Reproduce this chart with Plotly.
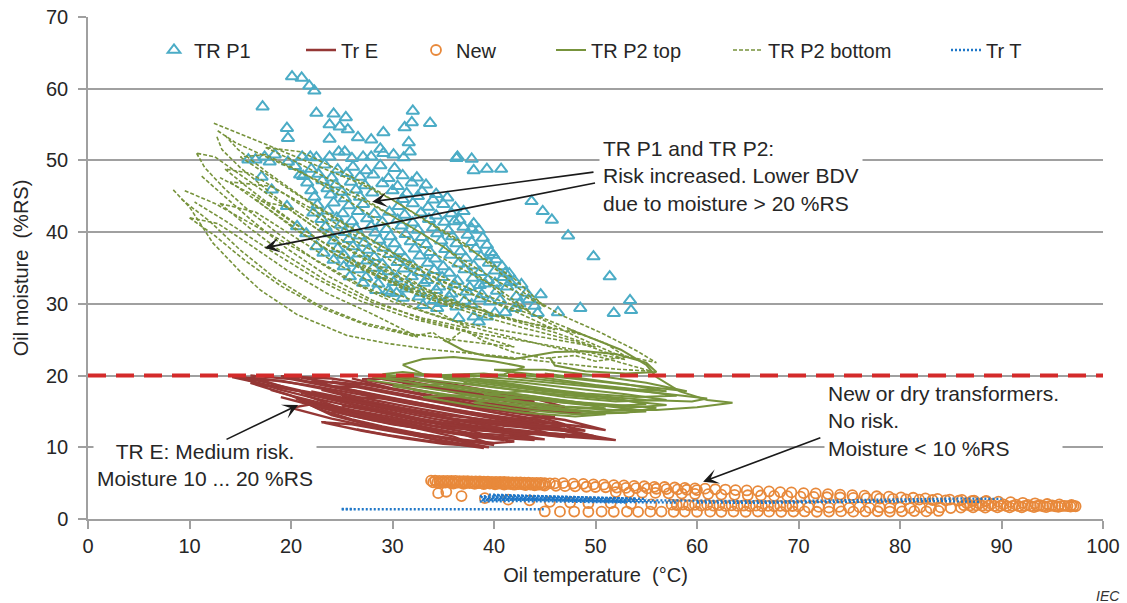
import plotly.graph_objects as go

# ---------------- DATA ----------------
# TR P1 : (oil temperature, oil moisture) scatter points
TR_P1_OUTLIERS = [
    (20.1, 61.7), (21.05, 61.5), (21.8, 60.4), (22.3, 59.7), (17.2, 57.5), (22.5, 56.6), (24.2, 56.5),
    (25.4, 56.0), (23.8, 55.0), (24.8, 54.7), (25.6, 54.3), (19.6, 54.5), (19.7, 53.1), (23.8, 53.0),
    (32.0, 56.9), (31.9, 55.3), (31.2, 54.6), (33.7, 55.2), (31.6, 52.5), (29.1, 53.9), (27.9, 52.9),
    (26.6, 53.2), (31.7, 51.2), (31.1, 50.4), (36.4, 50.5), (37.8, 50.2), (38.0, 48.6), (39.3, 48.8),
    (40.7, 48.8), (43.7, 44.3), (44.8, 42.9), (45.7, 41.7), (47.3, 39.5), (49.8, 36.6), (51.4, 33.8),
    (53.4, 30.5), (53.5, 29.1), (51.8, 28.7), (48.5, 29.4), (46.3, 28.8), (44.3, 28.7), (42.1, 29.4),
    (41.1, 28.8), (40.1, 28.7), (39.3, 28.2), (38.5, 27.5), (37.8, 40.5), (39.9, 36.8), (41.1, 34.3),
    (41.6, 33.0), (42.2, 31.0), (39.6, 30.3), (40.1, 32.9), (38.6, 32.6), (36.1, 41.5), (36.3, 50.3),
    (34.4, 29.4), (36.5, 28.0), (38.0, 28.2),
]
TR_P1_ROW50 = [
    (15.8, 50.1), (16.5, 50.1), (17.4, 50.5), (18.4, 50.8), (17.9, 49.8), (19.7, 49.8), (21.1, 50.5),
    (21.9, 50.5), (22.5, 50.4), (23.8, 50.5), (24.7, 51.2), (25.3, 51.2), (26.0, 50.3), (27.1, 50.5),
    (27.9, 50.5), (28.8, 51.6), (29.1, 51.0), (30.1, 50.8), (17.1, 47.7), (20.9, 48.0), (18.1, 45.9),
    (19.6, 43.6), (20.6, 40.8), (21.5, 39.8), (22.5, 38.0), (23.2, 37.1), (24.2, 36.1), (25.2, 35.2),
    (25.8, 33.8), (27.1, 32.9), (28.4, 31.9), (29.8, 31.5), (30.4, 31.5),
]
TR_P1_CORE = [
    (20.4, 49.2), (22.0, 48.8), (23.3, 49.4), (24.6, 48.7), (26.1, 49.1), (27.4, 48.6), (28.8, 49.3), (30.2, 48.9),
    (21.2, 47.8), (22.7, 48.1), (24.0, 47.6), (25.5, 48.2), (26.8, 47.7), (28.1, 48.0), (29.6, 47.5), (31.0, 47.9), (32.4, 47.6),
    (21.6, 46.9), (23.1, 47.2), (24.4, 46.6), (25.9, 47.0), (27.3, 46.5), (29.0, 46.8), (30.5, 46.4), (31.9, 46.9), (33.3, 46.6),
    (22.0, 45.8), (23.6, 46.1), (25.0, 45.6), (26.4, 45.9), (28.0, 45.5), (30.0, 45.8), (31.4, 45.4), (32.9, 45.7), (34.3, 45.3),
    (22.3, 44.9), (23.9, 45.2), (25.3, 44.7), (26.8, 44.9), (31.0, 44.6), (32.5, 45.0), (34.0, 44.5), (35.4, 44.8),
    (22.6, 43.8), (24.2, 44.1), (25.7, 43.7), (27.1, 43.9), (30.6, 43.6), (32.0, 44.0), (33.5, 43.5), (35.0, 43.9), (36.2, 43.4),
    (22.2, 42.7), (23.6, 43.0), (25.1, 42.6), (26.6, 42.9), (28.2, 42.5), (29.7, 42.8), (31.2, 42.4), (32.8, 42.7), (34.3, 42.3), (35.8, 42.6), (37.0, 42.9),
    (23.0, 41.8), (24.5, 42.0), (26.0, 41.5), (27.5, 41.9), (29.0, 41.4), (30.5, 41.7), (32.0, 41.3), (33.6, 41.8), (35.1, 41.4), (36.6, 41.7), (38.0, 41.2),
    (23.4, 40.7), (24.9, 41.0), (26.4, 40.5), (27.9, 40.8), (29.4, 40.4), (30.9, 40.9), (32.5, 40.3), (34.0, 40.6), (35.5, 40.2), (37.0, 40.7), (38.5, 40.3),
    (23.8, 39.8), (25.3, 40.0), (26.8, 39.5), (28.3, 39.9), (29.8, 39.4), (31.3, 39.7), (32.9, 39.3), (34.4, 39.8), (35.9, 39.4), (37.4, 39.6), (38.9, 39.2),
    (24.2, 38.8), (25.7, 39.0), (27.2, 38.5), (28.7, 38.9), (30.2, 38.4), (31.8, 38.7), (33.3, 38.3), (34.8, 38.8), (36.3, 38.4), (37.8, 38.6), (39.3, 38.2),
    (24.6, 37.7), (26.1, 38.0), (27.6, 37.5), (29.1, 37.8), (30.7, 37.3), (32.2, 37.7), (33.7, 37.2), (35.2, 37.6), (36.7, 37.3), (38.2, 37.7), (39.7, 37.2),
    (25.2, 36.8), (26.7, 37.0), (28.2, 36.5), (29.7, 36.9), (31.2, 36.4), (32.7, 36.7), (34.2, 36.3), (35.7, 36.8), (37.2, 36.4), (38.7, 36.6), (40.2, 36.2),
    (26.0, 35.7), (27.5, 36.0), (29.0, 35.5), (30.5, 35.8), (32.0, 35.3), (33.5, 35.7), (35.0, 35.2), (36.5, 35.6), (38.0, 35.3), (39.5, 35.7), (40.8, 35.2),
    (26.6, 34.8), (28.1, 35.0), (29.6, 34.5), (31.1, 34.9), (32.6, 34.4), (34.1, 34.7), (35.6, 34.3), (37.1, 34.8), (38.6, 34.4), (40.1, 34.6), (41.5, 34.2),
    (27.4, 33.7), (28.9, 34.0), (30.4, 33.5), (31.9, 33.8), (33.4, 33.3), (34.9, 33.7), (36.4, 33.2), (37.9, 33.6), (39.4, 33.3), (40.9, 33.7), (42.0, 33.2),
    (28.6, 32.8), (30.1, 33.0), (31.6, 32.5), (33.1, 32.9), (34.6, 32.4), (36.1, 32.7), (37.6, 32.3), (39.1, 32.8), (41.3, 32.4), (42.7, 32.7),
    (29.6, 31.8), (31.3, 32.1), (32.8, 31.5), (34.3, 31.9), (35.8, 31.4), (37.3, 31.7), (38.8, 31.3), (40.3, 31.8), (43.2, 31.5),
    (31.0, 30.8), (32.6, 31.0), (34.1, 30.5), (35.6, 30.9), (37.1, 30.4), (38.6, 30.7), (40.6, 30.5), (43.4, 30.6), (44.6, 31.3),
    (33.0, 29.8), (34.8, 30.1), (36.3, 29.6), (37.8, 29.9), (42.5, 30.0), (44.0, 29.7),
]

# Tr E : polylines (temperature, moisture)
TR_E_LOOPS = [
    [(14.2, 19.8), (18, 18.6), (22, 17.5), (26, 16.3), (30, 15.2), (34, 14.0), (38, 13.0), (42, 12.2), (46, 11.6), (52, 11.0),
     (47, 12.3), (42, 13.5), (37, 14.8), (32, 16.0), (27, 17.3), (22, 18.6), (17, 19.6), (14.2, 19.8)],
    [(19, 19.9), (23, 18.8), (27, 17.6), (31, 16.5), (35, 15.4), (39, 14.4), (43, 13.6), (47, 13.2), (44, 14.4), (40, 15.4),
     (36, 16.5), (32, 17.6), (28, 18.7), (24, 19.6), (19, 19.9)],
    [(16, 19.0), (20, 17.2), (23, 15.5), (26, 14.4), (30, 13.2), (34, 12.3), (38, 11.5), (41, 11.0), (37, 12.6), (33, 13.6),
     (29, 14.8), (25, 16.4), (21, 17.8), (16, 19.0)],
    [(21, 16.5), (24, 14.5), (28, 13.0), (32, 11.7), (36, 10.5), (39, 9.9), (36, 11.5), (32, 12.8), (28, 14.2), (24, 15.6), (21, 16.5)],
    [(22, 19.2), (26, 18.0), (30, 16.8), (34, 15.6), (38, 14.6), (42, 14.0), (46, 14.2), (43, 15.0), (39, 15.8), (35, 16.8),
     (31, 17.8), (27, 18.8), (22, 19.2)],
    [(25, 17.0), (29, 15.8), (33, 14.8), (37, 13.6), (41, 12.6), (45, 12.0), (50, 11.5), (46, 12.8), (42, 13.8), (38, 14.8),
     (34, 15.8), (30, 16.8), (25, 17.0)],
    [(27, 19.5), (31, 18.4), (35, 17.2), (39, 16.2), (43, 15.4), (46, 15.6), (42, 16.6), (38, 17.6), (34, 18.6), (30, 19.6), (27, 19.5)],
    [(23, 13.5), (27, 12.3), (31, 11.3), (35, 10.5), (38, 10.2), (34, 11.2), (30, 12.2), (26, 13.2), (23, 13.5)],
    [(18, 18.0), (22, 16.4), (26, 15.2), (30, 14.2), (34, 13.0), (38, 12.4), (42, 12.0), (44, 11.3), (40, 11.8), (36, 12.0),
     (32, 13.2), (28, 14.4), (24, 15.8), (20, 17.2)],
    [(15.5, 19.5), (19, 18.0), (23, 16.6), (27, 15.4), (31, 14.4), (35, 13.4), (39, 12.7), (43, 12.0), (47, 11.4), (43, 12.8),
     (39, 13.8), (35, 14.7), (31, 15.8), (27, 16.9), (23, 18.2), (19, 19.3), (15.5, 19.5)],
    [(20, 15.5), (24, 14.0), (28, 12.8), (32, 12.0), (36, 11.2), (40, 10.6), (42, 10.8), (38, 11.9), (34, 12.9), (30, 13.9),
     (26, 14.9), (22, 16.0), (20, 15.5)],
    [(24, 18.5), (28, 17.2), (32, 16.2), (36, 15.2), (40, 14.4), (44, 13.6), (48, 13.0), (51, 12.4), (47, 13.8), (43, 14.6),
     (39, 15.4), (35, 16.4), (31, 17.4), (27, 18.4), (24, 18.5)],
    [(29, 19.8), (33, 18.6), (37, 17.6), (41, 16.8), (44, 16.4), (40, 17.6), (36, 18.6), (32, 19.5), (29, 19.8)],
    [(22, 17.8), (26, 16.0), (30, 14.6), (34, 13.6), (38, 12.8), (41, 12.6), (37, 13.6), (33, 14.6), (29, 15.8), (25, 17.0), (22, 17.8)],
    [(14.8, 19.9), (18, 18.9), (21, 17.9), (25, 16.8), (29, 15.7), (33, 14.6), (37, 13.7), (41, 13.0), (45, 12.5), (48, 12.2),
     (44, 13.2), (40, 14.1), (36, 15.1), (32, 16.2), (28, 17.3), (24, 18.5), (20, 19.5), (16, 20.0)],
    [(17, 19.4), (20, 18.1), (24, 16.9), (28, 15.9), (32, 14.9), (36, 14.0), (40, 13.3), (44, 12.8), (49, 12.3), (45, 13.6),
     (41, 14.6), (37, 15.6), (33, 16.6), (29, 17.7), (25, 18.8), (21, 19.7)],
    [(20.5, 16.8), (23, 15.2), (26, 13.9), (29, 12.9), (33, 11.8), (37, 11.0), (40, 10.3), (37, 11.8), (34, 12.6), (30, 13.6),
     (27, 14.7), (24, 15.9), (21.5, 17.2)],
    [(23, 18.0), (27, 16.6), (31, 15.5), (35, 14.5), (39, 13.9), (43, 13.2), (47, 12.9), (44, 14.0), (40, 14.9), (36, 15.9),
     (32, 17.0), (28, 18.2), (24, 19.2)],
    [(26, 19.6), (30, 18.2), (34, 17.2), (38, 16.4), (42, 15.6), (46, 15.0), (49, 14.6), (45, 15.8), (41, 16.7), (37, 17.6),
     (33, 18.6), (29, 19.5)],
    [(24, 15.0), (28, 13.8), (32, 12.8), (36, 12.0), (40, 11.4), (44, 11.0), (41, 12.2), (37, 12.9), (33, 13.8), (29, 14.8), (25, 15.8)],
    [(26.5, 12.5), (30, 11.6), (33.5, 10.9), (37, 10.4), (39.5, 10.0), (36, 11.0), (32, 11.9), (28.5, 12.8)],
    [(31, 19.0), (35, 17.9), (39, 16.9), (43, 16.1), (47, 15.6), (44, 16.8), (40, 17.8), (36, 18.8), (32, 19.7)],
    [(19, 17.0), (22, 15.9), (25, 15.0), (29, 13.7), (33, 12.7), (37, 11.9), (41, 11.4), (45, 11.1), (41, 12.0), (37, 12.8),
     (33, 13.9), (29, 15.2), (25, 16.3), (21, 17.6)],
    [(35, 12.8), (39, 12.4), (43, 11.8), (46, 11.9), (50, 11.3), (46, 12.6), (42, 13.2), (38, 13.8), (35, 13.5)],
]

# New : open circles
NEW_TOP_X = [33.8, 34.2, 34.6, 35.0, 35.4, 35.8, 36.2, 36.6, 37.0, 37.4, 37.8, 38.2, 38.6, 39.0, 39.4, 39.8, 40.2, 40.6,
             41.0, 41.4, 41.8, 42.2, 42.6, 43.0, 43.4, 43.8, 44.2, 44.6, 45.0, 45.5, 46.0]
NEW_TOP_Y = [5.35, 5.36, 5.33, 5.32, 5.33, 5.30, 5.31, 5.28, 5.27, 5.27, 5.25, 5.24, 5.23, 5.22, 5.20, 5.19, 5.18, 5.16,
             5.16, 5.14, 5.12, 5.11, 5.10, 5.08, 5.07, 5.05, 5.04, 5.03, 5.00, 4.98, 4.97]
NEW_TOP2_X = [34.0, 34.4, 34.8, 35.2, 35.6, 36.0, 36.4, 36.8, 37.2, 37.6, 38.0, 38.4, 38.8, 39.2, 39.6, 40.0, 40.4, 40.8,
              41.2, 41.6, 42.0, 42.4, 42.8, 43.2, 43.6, 44.0, 44.4, 44.8]
NEW_TOP2_Y = [5.12, 5.10, 5.11, 5.08, 5.08, 5.05, 5.06, 5.03, 5.02, 5.02, 4.99, 4.99, 4.97, 4.96, 4.95, 4.93, 4.92, 4.91,
              4.89, 4.88, 4.86, 4.85, 4.84, 4.82, 4.81, 4.79, 4.78, 4.76]
NEW_ROW2_X = [36.0, 37.0, 38.1, 39.0, 40.1, 41.0, 42.0, 43.1, 44.0, 45.0, 46.1, 47.0, 48.0, 49.1, 50.0, 51.0, 52.1, 53.0,
              54.0, 55.1, 56.0, 57.0, 58.1, 59.0, 60.0]
NEW_ROW2_Y = [4.95, 4.91, 4.90, 4.86, 4.84, 4.79, 4.78, 4.73, 4.70, 4.67, 4.62, 4.58, 4.55, 4.50, 4.46, 4.43, 4.38, 4.33,
              4.31, 4.26, 4.22, 4.17, 4.13, 4.08, 4.04]
NEW_ROW3_X = [46.8, 47.8, 48.8, 49.8, 50.8, 51.8, 52.8, 53.8, 54.8, 55.8, 56.8, 57.8, 58.8, 59.8, 60.8, 61.8, 62.8, 63.8,
              64.9, 66.0, 67.1, 68.2, 69.3, 70.5, 71.7, 72.9, 74.1, 75.3, 76.5, 77.7, 78.9, 80.1, 81.3, 82.5, 83.7, 84.9,
              86.1, 87.3, 88.5, 89.7, 90.9, 92.1, 93.3, 94.5, 95.7, 96.9]
NEW_ROW3_Y = [5.00, 4.94, 4.90, 4.82, 4.79, 4.72, 4.69, 4.61, 4.57, 4.49, 4.46, 4.39, 4.35, 4.27, 4.23, 4.15, 4.11, 4.03,
              3.98, 3.89, 3.84, 3.75, 3.71, 3.61, 3.56, 3.47, 3.41, 3.32, 3.26, 3.17, 3.11, 3.01, 2.96, 2.87, 2.81, 2.71,
              2.66, 2.57, 2.51, 2.41, 2.36, 2.26, 2.19, 2.09, 2.03, 1.95]
NEW_MID_X = [52.0, 53.3, 54.6, 55.9, 57.2, 58.5, 59.8, 61.1, 62.4, 63.7, 65.0, 66.3, 67.6, 68.9, 70.2, 71.5, 72.8, 74.1,
             75.4, 76.7, 78.0, 79.3, 80.6, 81.9, 83.2, 84.5, 85.8, 87.1, 88.4]
NEW_MID_Y = [3.75, 3.72, 3.66, 3.64, 3.58, 3.55, 3.49, 3.47, 3.40, 3.37, 3.31, 3.28, 3.22, 3.18, 3.13, 3.09, 3.03, 3.00,
             2.94, 2.90, 2.84, 2.81, 2.75, 2.70, 2.65, 2.61, 2.55, 2.51, 2.45]
NEW_ISO_X = [34.5, 35.3, 36.8, 39.1, 41.4, 43.5, 45.5, 47.5, 49.3, 51.5, 53.5, 55.5, 57.5]
NEW_ISO_Y = [3.6, 3.8, 3.2, 2.9, 2.7, 2.6, 2.4, 2.3, 2.2, 2.2, 2.1, 2.05, 2.0]
NEW_LOW_X = [58.0, 58.6, 59.2, 59.8, 60.4, 61.0, 61.6, 62.2, 62.8, 63.4, 64.0, 64.6, 65.2, 65.8, 66.4, 67.0, 67.6, 68.2,
             68.8, 69.4, 70.0, 71.0, 72.0, 73.0, 74.0, 75.0, 76.0, 77.0, 78.0, 79.0, 80.0, 81.0, 82.0, 83.0, 84.0, 85.0,
             86.0, 86.6, 87.2, 87.8, 88.4, 89.0, 89.6, 90.2, 90.8, 91.4, 92.0, 92.6, 93.2, 93.8, 94.4, 95.0, 95.6, 96.2,
             96.8, 97.3]
NEW_LOW_Y = [1.95, 2.02, 1.92, 1.98, 1.88, 1.96, 1.86, 1.93, 1.84, 1.90, 1.82, 1.88, 1.80, 1.86, 1.79, 1.84, 1.77, 1.83,
             1.76, 1.81, 1.75, 1.62, 1.70, 1.58, 1.68, 1.56, 1.66, 1.55, 1.64, 1.54, 1.63, 1.53, 1.62, 1.52, 1.61, 1.52,
             1.60, 2.20, 1.62, 2.15, 1.60, 2.10, 1.62, 2.05, 1.63, 2.00, 1.64, 1.96, 1.65, 1.92, 1.66, 1.88, 1.68, 1.84,
             1.72, 1.78]
NEW_RIGHT_X = [86.3, 86.9, 87.5, 88.1, 88.7, 89.3, 89.9, 90.5, 91.1, 91.7, 92.3, 92.9, 93.5, 94.1, 94.7, 95.3, 95.9, 96.5, 97.1]
NEW_RIGHT_Y = [1.92, 1.88, 1.90, 1.85, 1.87, 1.83, 1.85, 1.81, 1.83, 1.80, 1.82, 1.79, 1.81, 1.78, 1.80, 1.78, 1.79, 1.80, 1.81]
NEW_BOT_X = [45.0, 46.5, 47.9, 49.3, 50.6, 51.8, 53.1, 54.2, 55.4, 56.5, 57.7, 58.8, 60.0, 61.3, 62.4, 63.6, 64.8, 66.0,
             67.1, 68.3, 69.5, 70.6, 71.8, 73.0, 74.2, 75.4, 76.6, 77.8, 79.0, 80.2, 81.4, 82.6, 83.8]
NEW_BOT_Y = [1.05, 1.02, 1.04, 1.00, 1.03, 1.01, 1.04, 1.00, 1.02, 1.03, 1.00, 1.04, 1.01, 1.02, 1.00, 1.03, 1.01, 1.04,
             1.02, 1.00, 1.03, 1.05, 1.01, 1.03, 1.06, 1.02, 1.05, 1.08, 1.04, 1.07, 1.10, 1.06, 1.12]

# TR P2 top : solid loops
TR_P2_TOP_LOOPS = [
    [(31, 21.5), (33, 22.3), (36, 22.6), (40, 22.0), (43, 21.2), (41, 20.2), (37, 19.8), (33, 20.2), (31, 21.5)],
    [(35, 25.0), (37, 23.5), (39, 22.8), (42, 22.3), (44, 22.8), (46, 23.3), (49, 23.4), (52, 23.0), (55, 21.8), (56, 20.5),
     (53, 20.3), (49, 20.6), (46, 21.4), (45.5, 22.5)],
    [(47.5, 26.4), (50, 25.0), (52.5, 23.6), (55, 21.5), (56, 19.8), (58.3, 17.8), (61, 16.6), (63.5, 16.2), (60, 15.6),
     (56, 15.2), (51.7, 15.2), (47, 15.6)],
    [(28, 19.8), (32, 19.0), (37, 18.0), (42, 17.0), (47, 16.2), (52, 15.8), (55, 16.0), (52, 16.8), (47, 17.6), (42, 18.6),
     (37, 19.5), (32, 20.2), (28, 19.8)],
    [(30, 18.5), (35, 17.4), (40, 16.4), (45, 15.5), (50, 15.0), (54, 15.2), (50, 16.0), (45, 16.9), (40, 17.8), (35, 18.8), (30, 18.5)],
    [(33, 17.0), (38, 15.8), (43, 14.8), (48, 14.3), (51, 14.6), (47, 15.4), (42, 16.3), (37, 17.3), (33, 17.0)],
    [(34, 20.0), (39, 19.2), (44, 18.3), (49, 17.5), (54, 17.0), (58, 17.2), (54, 18.0), (49, 18.8), (44, 19.6), (39, 20.3), (34, 20.0)],
    [(37, 19.0), (42, 18.0), (47, 17.0), (52, 16.4), (57, 16.6), (53, 17.4), (48, 18.2), (43, 19.0), (38, 19.6), (37, 19.0)],
    [(29, 20.2), (31, 19.8), (36, 19.0), (41, 18.2), (46, 17.4), (50, 17.0), (46, 18.0), (41, 19.0), (36, 19.8), (31, 20.5), (29, 20.2)],
    [(38, 16.2), (43, 15.2), (48, 14.6), (53, 14.8), (56, 15.5), (52, 15.9), (47, 16.3), (42, 16.9), (38, 16.2)],
    [(40, 20.8), (45, 20.0), (50, 19.2), (55, 18.4), (59, 17.8), (55, 19.0), (50, 20.0), (45, 20.8), (40, 20.8)],
    [(27.5, 19.4), (31, 18.7), (35, 17.9), (39, 17.1), (43, 16.3), (47, 15.7), (51, 15.4), (48, 16.3), (44, 17.1), (40, 17.9),
     (36, 18.7), (32, 19.4), (28.5, 19.8)],
    [(32, 18.0), (36, 17.1), (40, 16.2), (44, 15.4), (48, 15.0), (52, 14.8), (55, 15.0), (51, 15.9), (47, 16.4), (43, 17.1),
     (39, 17.9), (35, 18.6)],
    [(35, 19.6), (40, 18.7), (45, 17.8), (50, 17.2), (55, 16.6), (59.5, 16.4), (61, 16.8), (56, 17.6), (51, 18.3), (46, 19.0),
     (41, 19.6), (37, 20.1)],
    [(39, 17.4), (44, 16.6), (49, 15.9), (54, 15.6), (57, 15.9), (53, 16.5), (48, 17.1), (43, 17.8), (39, 17.4)],
    [(42, 20.3), (46, 19.5), (50, 18.7), (54, 18.1), (57, 17.8), (53, 18.8), (49, 19.6), (45, 20.3)],
]

# TR P2 bottom : dashed loops
TR_P2_BOT_LOOPS = [
    [(8.4, 45.9), (10, 43.5), (12.3, 38.5), (15, 34.5), (17, 31.9), (20.6, 28.5), (25.5, 25.6), (29.4, 24.5), (34, 23.6),
     (40, 22.8), (46, 21.8), (52, 20.9), (55.5, 20.6), (51, 22.4), (45, 24.2), (39, 26.3), (33, 29.0), (27, 32.5), (22, 36.5),
     (17, 40.5), (12.5, 44.0), (9.5, 45.8)],
    [(9.2, 44.6), (12, 41.5), (15, 37.5), (18.5, 33.5), (22.5, 30.0), (27, 27.4), (32, 25.8), (37, 24.8), (42, 24.0), (37, 26.2),
     (32, 27.9), (27, 30.3), (22.5, 33.5), (18, 37.4), (13.5, 41.6), (10.5, 44.2)],
    [(10.7, 51.0), (11.5, 49.0), (13.5, 46.0), (16, 42.8), (19, 39.5), (22.5, 36.0), (26, 33.0), (30, 30.3), (35, 28.0),
     (40, 26.5), (45, 25.3), (50, 24.0), (46, 26.0), (41, 28.0), (36, 30.5), (31, 33.5), (26.5, 37.0), (22.5, 40.5),
     (18.5, 44.5), (15, 48.0), (12.5, 50.5), (10.7, 51.0)],
    [(12.7, 53.3), (13.2, 51.5), (15, 49.0), (17.5, 46.0), (20.5, 42.5), (24, 39.0), (28, 35.5), (32, 32.5), (36.5, 30.0),
     (41, 28.2), (46, 26.4), (42, 29.0), (37.5, 31.5), (33, 34.5), (29, 38.0), (25, 41.5), (21, 45.0), (17.5, 48.5),
     (14.8, 51.5), (13.5, 53.5)],
    [(12.4, 55.2), (14.5, 54.0), (17, 52.5), (20, 50.8), (23, 49.0), (26.5, 47.0), (30, 44.5), (33.5, 41.5), (37, 38.5),
     (40, 35.0), (43, 31.5), (46.5, 28.5), (50.5, 26.0), (54, 23.5), (56, 21.8), (52, 23.0), (48, 25.5), (44.5, 28.0),
     (41, 31.0), (38, 34.5), (35, 38.0), (31.5, 41.0), (28, 43.8), (24.5, 46.0), (21, 48.3), (17.5, 50.5), (14.5, 52.5),
     (12.6, 54.3)],
    [(11.2, 47.8), (13, 45.5), (16, 41.8), (19.5, 37.8), (23.5, 34.0), (28, 30.5), (33, 27.8), (38, 26.0), (43, 24.8),
     (48, 23.6), (53, 22.2), (48, 24.8), (43, 26.6), (38, 28.6), (33, 31.0), (28.5, 34.0), (24, 37.8), (20, 41.5),
     (16.5, 45.0), (13, 47.6)],
    [(13.5, 48.8), (15.5, 46.5), (18.5, 43.2), (22, 39.6), (26, 36.2), (30.5, 33.0), (35, 30.5), (39.5, 28.8), (36, 31.8),
     (31.5, 34.8), (27, 38.2), (23, 41.8), (19.5, 45.2), (16, 48.2), (13.5, 48.8)],
    [(15, 50.5), (17, 48.6), (20, 45.8), (23.5, 42.6), (27.5, 39.2), (31.5, 36.0), (35.5, 33.4), (39.5, 31.0), (43.5, 29.0),
     (40, 32.5), (36, 35.5), (32, 38.8), (28, 42.2), (24.5, 45.4), (21, 48.4), (17.5, 50.8), (15, 50.5)],
    [(17.5, 51.8), (20.5, 49.8), (24, 47.2), (27.5, 44.4), (31, 41.4), (34.5, 38.4), (38, 35.2), (41.5, 32.2), (45, 29.6),
     (42, 33.5), (38.5, 36.8), (35, 40.0), (31.5, 43.2), (28, 46.2), (24.5, 48.8), (21, 51.2), (17.5, 51.8)],
    [(10, 42.0), (12.5, 39.5), (15.5, 36.0), (19, 32.5), (23, 29.4), (27.5, 27.0), (32.5, 25.4), (28, 28.6), (23.5, 31.5),
     (19.5, 34.8), (16, 38.2), (12.8, 41.2), (10, 42.0)],
    [(13, 44.0), (16, 40.5), (19.5, 36.8), (23.5, 33.2), (28, 30.2), (33, 28.0), (37.5, 26.6), (33.5, 29.6), (29, 32.2),
     (24.5, 35.6), (20.5, 39.2), (16.5, 42.8), (13, 44.0)],
    [(30, 26.4), (32, 25.5), (34, 26.0), (35.4, 24.6), (37, 26.4), (39, 24.8), (42, 23.2), (45, 22.4), (48, 22.8), (50, 22.0),
     (53, 22.6), (51, 24.5), (48.5, 25.8), (47.2, 26.4)],
    [(14, 47.0), (17, 44.0), (20.5, 40.3), (24.5, 36.8), (29, 33.6), (34, 30.8), (39, 28.6), (44, 27.2), (49, 25.6),
     (44.5, 28.2), (39.5, 30.4), (35, 33.0), (30.5, 36.2), (26, 39.8), (22, 43.3), (18, 46.4), (14, 47.0)],
    [(16.5, 44.5), (19.5, 41.5), (23, 38.0), (27, 34.8), (31.5, 31.8), (36, 29.5), (31.8, 33.4), (27.5, 36.8), (23.5, 40.2),
     (20, 43.4), (16.5, 44.5)],
]

# Tr T : dotted polylines
TR_T_LINES = [
    [(25.0, 1.35), (26.0, 1.35), (35.0, 1.35), (45.0, 1.35)],
    [(25.0, 1.4), (26.2, 1.4)],
    [(38.6, 3.2), (42, 3.0), (46, 2.9), (50, 2.75), (54, 2.6), (56, 2.55)],
    [(38.8, 2.6), (42, 2.7), (46, 2.6), (50, 2.45), (54, 2.35), (58, 2.3)],
    [(39.0, 2.9), (43, 2.85), (47, 2.7), (51, 2.6), (55, 2.5)],
    [(40.0, 3.3), (44, 3.2), (48, 3.1), (52, 2.9), (55, 2.8)],
    [(38.7, 3.05), (42, 2.95), (46, 2.8), (50, 2.65), (54, 2.5)],
    [(38.9, 2.75), (42, 2.8), (46, 2.7), (50, 2.55), (53, 2.45)],
    [(39.5, 3.4), (43, 3.3), (47, 3.1), (51, 2.95), (54, 2.85)],
    [(38.6, 2.45), (42, 2.5), (46, 2.45), (50, 2.35), (53, 2.3)],
    [(56, 2.6), (62, 2.5), (68, 2.45), (74, 2.6), (80, 2.75), (86, 2.85), (90, 2.8)],
    [(60, 2.3), (66, 2.25), (72, 2.35), (78, 2.45), (84, 2.5), (88, 2.4)],
]

THRESHOLD = 20
X_TICKS = [0, 10, 20, 30, 40, 50, 60, 70, 80, 90, 100]
Y_TICKS = [0, 10, 20, 30, 40, 50, 60, 70]

# ---------------- HELPERS ----------------
def join_lines(loops):
    xs, ys = [], []
    for lp in loops:
        for x, y in lp:
            xs.append(x)
            ys.append(y)
        xs.append(None)
        ys.append(None)
    return xs, ys

FONT = "Liberation Sans, Arial, sans-serif"
TXT = "#262626"
C_P1 = "#4bacc6"
C_E = "#953735"
C_NEW = "#e8893b"
C_P2 = "#77933c"
C_T = "#1f77c8"

fig = go.Figure()

p1 = TR_P1_OUTLIERS + TR_P1_ROW50 + TR_P1_CORE
fig.add_trace(go.Scatter(
    x=[p[0] for p in p1], y=[p[1] for p in p1], mode="markers", name="TR P1", legend="legend",
    marker=dict(symbol="triangle-up-open", size=11, color=C_P1, line=dict(width=2, color=C_P1)),
))

ex, ey = join_lines(TR_E_LOOPS)
fig.add_trace(go.Scatter(x=ex, y=ey, mode="lines", name="Tr E", legend="legend2",
                         line=dict(color=C_E, width=2.4)))

nx = NEW_TOP_X + NEW_TOP2_X + NEW_ROW2_X + NEW_ROW3_X + NEW_MID_X + NEW_ISO_X + NEW_LOW_X + NEW_RIGHT_X + NEW_BOT_X
ny = NEW_TOP_Y + NEW_TOP2_Y + NEW_ROW2_Y + NEW_ROW3_Y + NEW_MID_Y + NEW_ISO_Y + NEW_LOW_Y + NEW_RIGHT_Y + NEW_BOT_Y
fig.add_trace(go.Scatter(x=nx, y=ny, mode="markers", name="New", legend="legend3",
                         marker=dict(symbol="circle-open", size=10, color=C_NEW, line=dict(width=1.8, color=C_NEW))))

tx, ty = join_lines(TR_P2_TOP_LOOPS)
fig.add_trace(go.Scatter(x=tx, y=ty, mode="lines", name="TR P2 top", legend="legend4",
                         line=dict(color=C_P2, width=2)))

bx, by = join_lines(TR_P2_BOT_LOOPS)
fig.add_trace(go.Scatter(x=bx, y=by, mode="lines", name="TR P2 bottom", legend="legend5",
                         line=dict(color=C_P2, width=1.6, dash="4px,2px")))

qx, qy = join_lines(TR_T_LINES)
fig.add_trace(go.Scatter(x=qx, y=qy, mode="lines", name="Tr T", legend="legend6",
                         line=dict(color=C_T, width=2.4, dash="2px,2px")))

# ---------------- LAYOUT ----------------
L, R, T, B = 88, 24, 17, 84
W, H = 1127, 603
PW, PH = W - L - R, H - T - B

def px_x(px):
    return (px - L) / PW

def px_y(py):
    return (H - B - py) / PH

legend_common = dict(orientation="h", yanchor="middle", xanchor="left", bgcolor="rgba(0,0,0,0)",
                     font=dict(family=FONT, size=20, color=TXT), itemwidth=30)
legend_text_starts = [196, 343, 458, 593, 770, 988]
lkeys = ["legend", "legend2", "legend3", "legend4", "legend5", "legend6"]
layout_legends = {}
for k, xs in zip(lkeys, legend_text_starts):
    layout_legends[k] = dict(legend_common, x=px_x(xs - 42), y=px_y(50))

axis_common = dict(showline=True, linecolor="#a0a0a0", linewidth=1.5, ticks="outside", ticklen=8,
                   tickcolor="#a0a0a0", tickwidth=1.5, zeroline=False,
                   tickfont=dict(family=FONT, size=20, color=TXT))

fig.update_layout(
    width=W, height=H, margin=dict(l=L, r=R, t=T, b=B, autoexpand=False),
    plot_bgcolor="white", paper_bgcolor="white",
    showlegend=True,
    xaxis=dict(axis_common, range=[0, 100], tickvals=X_TICKS, showgrid=False,
               title=dict(text="Oil temperature  (°C)", font=dict(family=FONT, size=20, color=TXT), standoff=12)),
    yaxis=dict(axis_common, range=[0, 70], tickvals=Y_TICKS, showgrid=True, gridcolor="#a0a0a0", gridwidth=1.5,
               ticklabelstandoff=6,
               title=dict(text="Oil moisture  (%RS)", font=dict(family=FONT, size=20, color=TXT), standoff=12)),
    **layout_legends,
)

fig.add_shape(type="line", xref="paper", x0=0, x1=1, yref="y", y0=THRESHOLD, y1=THRESHOLD,
              line=dict(color="#d42a2a", width=4, dash="18px,10px"), layer="above")

ann_font = dict(family=FONT, size=21, color=TXT)
fig.add_annotation(x=50.3, y=53.8, xref="x", yref="y", xanchor="left", yanchor="top", align="left",
                   text="TR P1 and TR P2:<br>Risk increased. Lower BDV<br>due to moisture > 20 %RS",
                   showarrow=False, font=ann_font, bgcolor="white", borderpad=3)
fig.add_annotation(x=72.5, y=19.6, xref="x", yref="y", xanchor="left", yanchor="top", align="left",
                   text="New or dry transformers.<br>No risk.<br>Moisture < 10 %RS",
                   showarrow=False, font=ann_font, bgcolor="white", borderpad=3)
fig.add_annotation(x=11.5, y=7.6, xref="x", yref="y", xanchor="center", yanchor="middle", align="center",
                   text="TR E: Medium risk.<br>Moisture 10 ... 20 %RS",
                   showarrow=False, font=ann_font, bgcolor="white", borderpad=3)

arrows = [((28.0, 44.25), (49.95, 48.4)), ((17.4, 37.8), (50.1, 46.9)),
          ((60.6, 5.2), (72.3, 11.4)), ((20.7, 15.9), (13.5, 11.0))]
for (hx, hy), (ax_, ay_) in arrows:
    fig.add_annotation(x=hx, y=hy, ax=ax_, ay=ay_, xref="x", yref="y", axref="x", ayref="y", text="",
                       showarrow=True, arrowhead=3, arrowsize=1.6, arrowwidth=1.6, arrowcolor="#1a1a1a")

fig.add_annotation(x=px_x(1122), y=px_y(596), xref="paper", yref="paper", xanchor="right", yanchor="middle",
                   text="IEC", showarrow=False, font=dict(family=FONT, size=14, color="#333", style="italic"))

fig.write_html("out.html")
